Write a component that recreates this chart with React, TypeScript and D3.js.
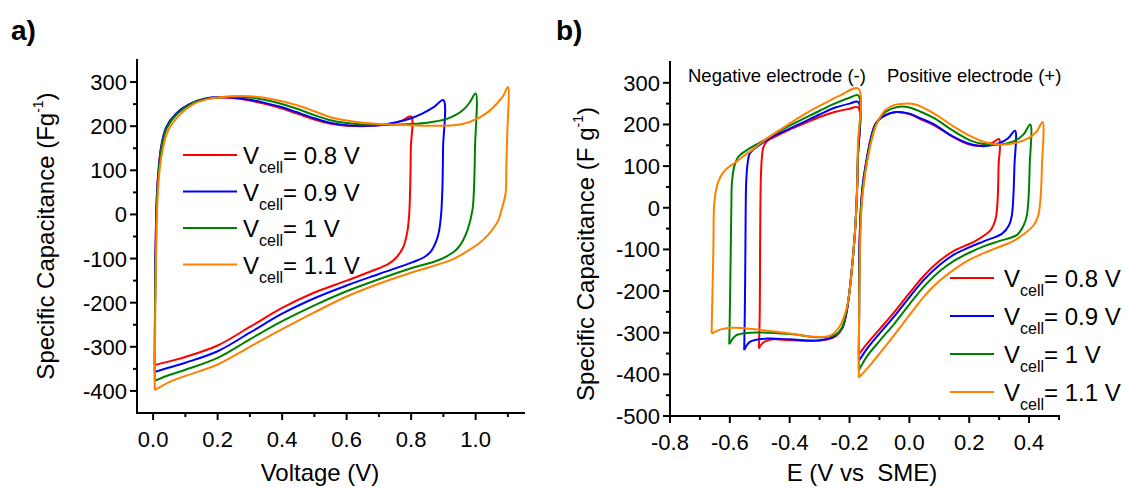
import React from 'react';
import * as d3 from 'd3';

type P = [number, number];

const FONT = "Arial, 'Liberation Sans', Helvetica, sans-serif";

const seriesLabels = ['0.8 V', '0.9 V', '1 V', '1.1 V'];
const seriesColors = ['#ff0000', '#0000ff', '#008000', '#ff8000'];

// Panel a: cell CV loops (Voltage V, capacitance F/g)
const aRed: P[] = [
  [0.005, -341], [0.006, -200], [0.007, -100], [0.009, -20], [0.012, 48], [0.018, 110], [0.025, 153], [0.041, 198],
  [0.072, 229], [0.113, 250], [0.16, 262], [0.2, 265], [0.26, 263], [0.3, 258], [0.34, 252], [0.4, 240], [0.444, 229],
  [0.5, 215], [0.547, 206], [0.6, 201], [0.65, 200], [0.7, 202], [0.733, 205], [0.77, 212], [0.8, 222],
  [0.799, 150], [0.797, 60], [0.794, 0], [0.788, -40], [0.775, -75], [0.755, -97], [0.73, -112], [0.7, -122],
  [0.6, -150], [0.5, -177], [0.4, -212], [0.3, -255], [0.2, -297], [0.1, -323], [0.05, -333], [0.005, -341],
];
const aBlue: P[] = [
  [0.005, -357], [0.006, -200], [0.007, -100], [0.009, -20], [0.012, 48], [0.018, 110], [0.025, 153], [0.041, 198],
  [0.072, 229], [0.113, 250], [0.16, 262], [0.2, 266], [0.26, 264], [0.3, 260], [0.34, 254], [0.4, 243], [0.444, 232],
  [0.5, 218], [0.547, 208], [0.6, 202], [0.65, 201], [0.7, 202], [0.754, 209], [0.8, 218], [0.836, 229], [0.87, 243], [0.9, 259],
  [0.899, 150], [0.897, 60], [0.893, 0], [0.886, -40], [0.877, -62], [0.86, -85], [0.84, -97], [0.805, -108], [0.7, -135],
  [0.6, -161], [0.5, -190], [0.4, -225], [0.3, -268], [0.2, -310], [0.1, -336], [0.05, -347], [0.005, -357],
];
const aGreen: P[] = [
  [0.005, -377], [0.006, -200], [0.008, -100], [0.01, -20], [0.013, 48], [0.019, 110], [0.026, 150], [0.042, 195],
  [0.075, 228], [0.12, 251], [0.17, 262], [0.22, 266], [0.3, 265], [0.37, 256], [0.444, 240], [0.5, 225], [0.547, 214],
  [0.6, 207], [0.65, 204], [0.733, 203], [0.8, 205], [0.85, 208], [0.909, 216], [0.94, 226], [0.96, 236], [0.98, 252], [1.0, 274],
  [0.998, 150], [0.995, 60], [0.99, 9], [0.975, -35], [0.96, -60], [0.94, -80], [0.91, -95], [0.88, -105], [0.8, -122],
  [0.7, -147], [0.6, -174], [0.5, -206], [0.4, -242], [0.3, -283], [0.2, -325], [0.1, -352], [0.05, -364], [0.005, -377],
];
const aOrange: P[] = [
  [0.005, -398], [0.007, -200], [0.009, -100], [0.011, -20], [0.014, 40], [0.02, 100], [0.028, 140], [0.045, 188],
  [0.08, 224], [0.125, 250], [0.18, 263], [0.24, 268], [0.3, 268], [0.37, 261], [0.444, 248], [0.5, 234], [0.547, 221],
  [0.6, 213], [0.65, 208], [0.733, 204], [0.8, 202], [0.9, 201], [0.96, 205], [1.01, 219], [1.04, 233], [1.064, 250],
  [1.085, 268], [1.1, 289],
  [1.098, 180], [1.095, 100], [1.093, 48], [1.08, 10], [1.07, -14], [1.04, -45], [1.01, -66], [0.97, -85], [0.925, -103],
  [0.8, -132], [0.7, -157], [0.6, -186], [0.5, -222], [0.4, -260], [0.3, -300], [0.2, -340], [0.1, -366], [0.05, -380], [0.005, -398],
];

// Panel b: negative electrode loops (E vs SME)
const bNegRed: P[] = [
  [-0.503, -338], [-0.5, -250], [-0.499, -100], [-0.498, 0], [-0.496, 80], [-0.493, 120], [-0.488, 145], [-0.477, 159],
  [-0.445, 172], [-0.4, 188], [-0.35, 203], [-0.3, 218], [-0.25, 230], [-0.2, 238], [-0.171, 241],
  [-0.172, 120], [-0.176, 20], [-0.182, -60], [-0.19, -130], [-0.2, -200], [-0.211, -255], [-0.225, -290], [-0.25, -310],
  [-0.3, -319], [-0.4, -318], [-0.456, -316], [-0.489, -324], [-0.503, -338],
];
const bNegBlue: P[] = [
  [-0.552, -342], [-0.55, -250], [-0.548, -100], [-0.547, 0], [-0.545, 67], [-0.54, 110], [-0.533, 131], [-0.508, 147],
  [-0.458, 171], [-0.4, 190], [-0.35, 207], [-0.3, 224], [-0.25, 240], [-0.2, 250], [-0.171, 254],
  [-0.172, 120], [-0.176, 20], [-0.182, -60], [-0.19, -130], [-0.2, -200], [-0.211, -255], [-0.225, -290], [-0.25, -308],
  [-0.3, -318], [-0.4, -316], [-0.478, -314], [-0.533, -322], [-0.552, -342],
];
const bNegGreen: P[] = [
  [-0.602, -328], [-0.6, -250], [-0.597, -100], [-0.595, 0], [-0.593, 60], [-0.585, 100], [-0.571, 123], [-0.533, 143],
  [-0.483, 163], [-0.45, 178], [-0.4, 197], [-0.35, 215], [-0.3, 233], [-0.25, 250], [-0.2, 264], [-0.171, 270],
  [-0.172, 130], [-0.176, 20], [-0.182, -60], [-0.19, -130], [-0.2, -200], [-0.211, -252], [-0.225, -288], [-0.25, -306],
  [-0.3, -311], [-0.4, -303], [-0.533, -300], [-0.578, -306], [-0.602, -328],
];
const bNegOrange: P[] = [
  [-0.661, -302], [-0.658, -200], [-0.655, -100], [-0.653, 0], [-0.648, 35], [-0.64, 60], [-0.625, 82], [-0.609, 95],
  [-0.583, 108], [-0.558, 122], [-0.52, 142], [-0.483, 163], [-0.42, 193], [-0.357, 222], [-0.294, 247], [-0.231, 270], [-0.171, 286],
  [-0.172, 150], [-0.176, 20], [-0.182, -60], [-0.19, -130], [-0.2, -200], [-0.211, -245], [-0.233, -285], [-0.267, -308],
  [-0.311, -310], [-0.4, -302], [-0.511, -292], [-0.589, -288], [-0.63, -292], [-0.661, -302],
];

// Panel b: positive electrode loops
const bPosRed: P[] = [
  [-0.169, -352], [-0.168, -250], [-0.167, -100], [-0.162, 0], [-0.155, 60], [-0.143, 115], [-0.13, 163], [-0.112, 203],
  [-0.08, 223], [-0.043, 230], [0.0, 225], [0.04, 212], [0.083, 198], [0.146, 170], [0.2, 152], [0.25, 150], [0.28, 157], [0.3, 165],
  [0.298, 100], [0.295, 20], [0.29, -20], [0.282, -40], [0.27, -55], [0.22, -80], [0.15, -103], [0.1, -128], [0.05, -162],
  [0.0, -205], [-0.05, -250], [-0.1, -292], [-0.14, -325], [-0.169, -352],
];
const bPosBlue: P[] = [
  [-0.169, -368], [-0.168, -250], [-0.167, -100], [-0.162, 0], [-0.155, 60], [-0.143, 115], [-0.13, 163], [-0.112, 203],
  [-0.08, 222], [-0.043, 230], [0.0, 226], [0.04, 214], [0.083, 200], [0.146, 171], [0.209, 152], [0.25, 148], [0.3, 155],
  [0.33, 167], [0.353, 185],
  [0.351, 100], [0.347, 20], [0.342, -20], [0.333, -42], [0.31, -62], [0.25, -80], [0.2, -95], [0.15, -112], [0.1, -138],
  [0.05, -172], [0.0, -215], [-0.05, -260], [-0.1, -302], [-0.14, -337], [-0.169, -368],
];
const bPosGreen: P[] = [
  [-0.169, -390], [-0.168, -250], [-0.166, -100], [-0.161, 0], [-0.153, 60], [-0.141, 115], [-0.128, 163], [-0.11, 203],
  [-0.08, 230], [-0.04, 242], [0.0, 241], [0.04, 230], [0.083, 215], [0.146, 185], [0.209, 160], [0.25, 153], [0.3, 152],
  [0.35, 160], [0.38, 175], [0.404, 200],
  [0.402, 100], [0.398, 20], [0.392, -20], [0.382, -42], [0.36, -65], [0.3, -80], [0.25, -92], [0.2, -108], [0.15, -127],
  [0.1, -153], [0.05, -188], [0.0, -232], [-0.05, -278], [-0.1, -320], [-0.14, -355], [-0.169, -390],
];
const bPosOrange: P[] = [
  [-0.169, -408], [-0.168, -250], [-0.165, -100], [-0.16, 0], [-0.152, 60], [-0.14, 115], [-0.127, 160], [-0.11, 200],
  [-0.08, 235], [-0.05, 247], [-0.018, 250], [0.02, 248], [0.083, 226], [0.146, 196], [0.209, 170], [0.25, 158], [0.3, 152],
  [0.35, 155], [0.4, 168], [0.425, 183], [0.445, 206],
  [0.443, 100], [0.438, 20], [0.43, -20], [0.415, -42], [0.385, -62], [0.347, -80], [0.272, -102], [0.2, -125], [0.15, -148],
  [0.1, -176], [0.05, -212], [0.0, -258], [-0.05, -305], [-0.1, -350], [-0.14, -385], [-0.169, -408],
];

const aSeries = [aRed, aBlue, aGreen, aOrange];
const bSeries = [
  [bNegRed, bPosRed],
  [bNegBlue, bPosBlue],
  [bNegGreen, bPosGreen],
  [bNegOrange, bPosOrange],
];

const aXMajor = [0, 0.2, 0.4, 0.6, 0.8, 1.0];
const aXMinor = [0.1, 0.3, 0.5, 0.7, 0.9, 1.1];
const aYMajor = [-400, -300, -200, -100, 0, 100, 200, 300];
const aYMinor = [-350, -250, -150, -50, 50, 150, 250];
const bXMajor = [-0.8, -0.6, -0.4, -0.2, 0, 0.2, 0.4];
const bXMinor = [-0.7, -0.5, -0.3, -0.1, 0.1, 0.3, 0.5];
const bYMajor = [-500, -400, -300, -200, -100, 0, 100, 200, 300];
const bYMinor = [-450, -350, -250, -150, -50, 50, 150, 250];

type AxesProps = {
  x: d3.ScaleLinear<number, number>;
  y: d3.ScaleLinear<number, number>;
  xMajor: number[];
  xMinor: number[];
  yMajor: number[];
  yMinor: number[];
};

function Axes({ x, y, xMajor, xMinor, yMajor, yMinor }: AxesProps) {
  const [x0, x1] = x.range();
  const [y0, y1] = y.range();
  const fmtX = (v: number) => (Math.abs(v) < 1e-9 ? '0.0' : v.toFixed(1));
  return (
    <g stroke="#000" fill="none">
      <line x1={x0} y1={y0} x2={x1} y2={y0} strokeWidth={2} strokeLinecap="square" />
      <line x1={x0} y1={y0} x2={x0} y2={y1} strokeWidth={2} strokeLinecap="square" />
      {xMajor.map((v) => (
        <line key={'xm' + v} x1={x(v)} x2={x(v)} y1={y0} y2={y0 + 7} strokeWidth={2} />
      ))}
      {xMinor.map((v) => (
        <line key={'xn' + v} x1={x(v)} x2={x(v)} y1={y0} y2={y0 + 4} strokeWidth={2} />
      ))}
      {yMajor.map((v) => (
        <line key={'ym' + v} x1={x0 - 7} x2={x0} y1={y(v)} y2={y(v)} strokeWidth={2} />
      ))}
      {yMinor.map((v) => (
        <line key={'yn' + v} x1={x0 - 4} x2={x0} y1={y(v)} y2={y(v)} strokeWidth={2} />
      ))}
      <g stroke="none" fill="#000" fontFamily={FONT} fontSize={22}>
        {xMajor.map((v) => (
          <text key={'xl' + v} x={x(v)} y={y0 + 34} textAnchor="middle">
            {fmtX(v)}
          </text>
        ))}
        {yMajor.map((v) => (
          <text key={'yl' + v} x={x0 - 10} y={y(v) + 8} textAnchor="end">
            {String(v)}
          </text>
        ))}
      </g>
    </g>
  );
}

function Legend({ x, y0, dy, len, gap }: { x: number; y0: number; dy: number; len: number; gap: number }) {
  return (
    <g fontFamily={FONT}>
      {seriesLabels.map((lab, i) => {
        const yy = y0 + i * dy;
        return (
          <g key={lab}>
            <line x1={x} x2={x + len} y1={yy} y2={yy} stroke={seriesColors[i]} strokeWidth={2} />
            <text x={x + len + gap} y={yy + 9} fontSize={24} fill="#000">
              V
              <tspan fontSize={16} dy={9}>cell</tspan>
              <tspan dy={-9}>{'= ' + lab}</tspan>
            </text>
          </g>
        );
      })}
    </g>
  );
}

export default function App() {
  const xa = d3.scaleLinear().domain([-0.05, 1.15]).range([137, 524]);
  const ya = d3.scaleLinear().domain([-450, 350]).range([413, 60]);
  const xb = d3.scaleLinear().domain([-0.8, 0.5]).range([670, 1059]);
  const yb = d3.scaleLinear().domain([-500, 350]).range([416, 62]);

  const lineA = d3
    .line<P>()
    .x((d) => xa(d[0]))
    .y((d) => ya(d[1]))
    .curve(d3.curveCatmullRom.alpha(0.5));
  const lineB = d3
    .line<P>()
    .x((d) => xb(d[0]))
    .y((d) => yb(d[1]))
    .curve(d3.curveCatmullRom.alpha(0.5));

  return (
    <svg
      width={1126}
      height={488}
      viewBox="0 0 1126 488"
      style={{ position: 'absolute', left: 0, top: 0, background: '#fff' }}
    >
      <rect x={0} y={0} width={1126} height={488} fill="#fff" />
      {/* Panel titles */}
      <text x={11} y={40} fontFamily={FONT} fontSize={28} fontWeight="bold">a)</text>
      <text x={556} y={40} fontFamily={FONT} fontSize={28} fontWeight="bold">b)</text>

      {/* Panel a */}
      <g>
        {aSeries.map((s, i) => (
          <path key={'a' + i} d={lineA(s) || ''} fill="none" stroke={seriesColors[i]} strokeWidth={2} strokeLinejoin="round" />
        ))}
        <Axes x={xa} y={ya} xMajor={aXMajor} xMinor={aXMinor} yMajor={aYMajor} yMinor={aYMinor} />
        <Legend x={183} y0={155} dy={36.5} len={54} gap={6} />
        <text x={320} y={481} fontFamily={FONT} fontSize={24} textAnchor="middle">Voltage (V)</text>
        <text transform="translate(54,236) rotate(-90)" fontFamily={FONT} fontSize={24} textAnchor="middle">
          Specific Capacitance (Fg
          <tspan fontSize={14} dy={-11}>-1</tspan>
          <tspan dy={11}>)</tspan>
        </text>
      </g>

      {/* Panel b */}
      <g>
        {bSeries.map((pair, i) =>
          pair.map((s, j) => (
            <path key={'b' + i + '_' + j} d={lineB(s) || ''} fill="none" stroke={seriesColors[i]} strokeWidth={2} strokeLinejoin="round" />
          ))
        )}
        <Axes x={xb} y={yb} xMajor={bXMajor} xMinor={bXMinor} yMajor={bYMajor} yMinor={bYMinor} />
        <Legend x={950} y0={278} dy={38} len={44} gap={10} />
        <text x={688} y={82} fontFamily={FONT} fontSize={18.5}>Negative electrode (-)</text>
        <text x={887} y={82} fontFamily={FONT} fontSize={18.5}>Positive electrode (+)</text>
        <text x={862} y={481} fontFamily={FONT} fontSize={24} textAnchor="middle" style={{ whiteSpace: 'pre' }}>
          {'E (V vs  SME)'}
        </text>
        <text transform="translate(594,254) rotate(-90)" fontFamily={FONT} fontSize={24} textAnchor="middle">
          Specific Capacitance (F g
          <tspan fontSize={14} dy={-11}>-1</tspan>
          <tspan dy={11}>)</tspan>
        </text>
      </g>
    </svg>
  );
}
